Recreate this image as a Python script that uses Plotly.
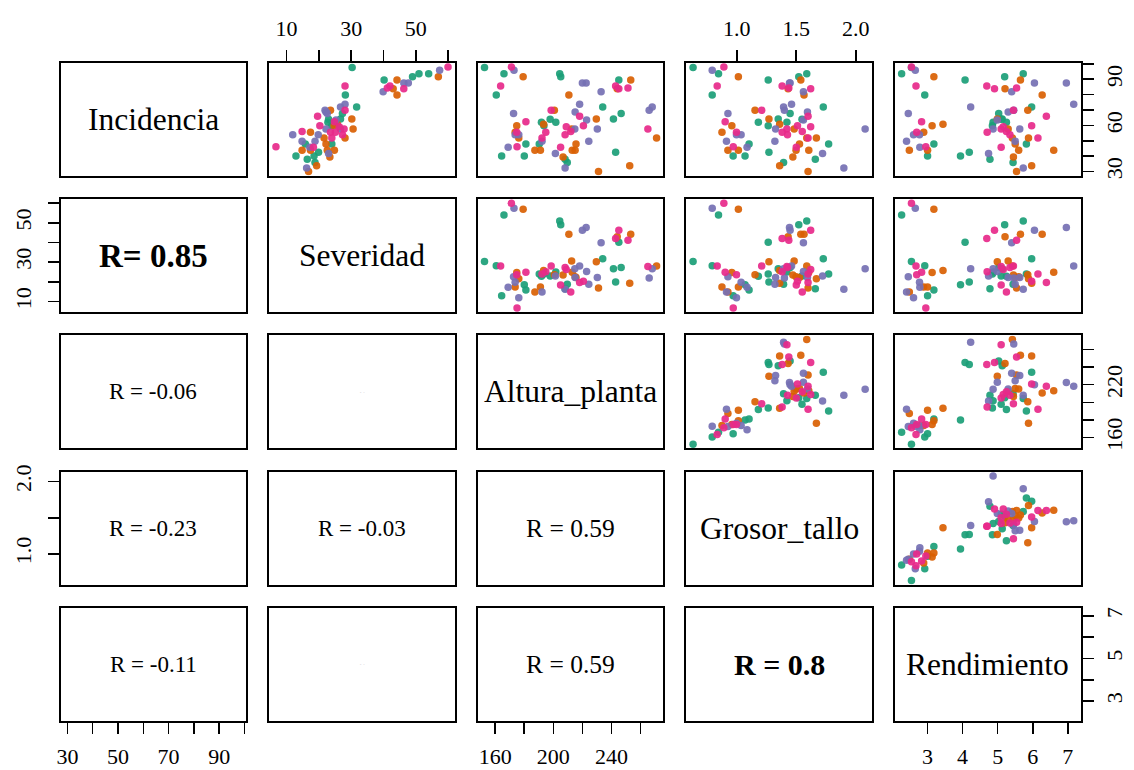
import plotly.graph_objects as go

# ---------------- data (one entry per observation) ----------------
grupo = (["G1"] * 20) + (["G2"] * 20) + (["G3"] * 19) + (["G4"] * 18)

incidencia = [
    97.6, 93.6, 79.8, 40.1, 40.1, 48.0, 62.0, 59.8, 89.6, 42.5,
    64.1, 67.7, 71.9, 35.9, 91.7, 93.6, 38.0, 64.0, 62.0, 48.0,
    55.6, 59.8, 91.7, 43.8, 43.8, 69.8, 64.1, 83.8, 89.6, 51.8,
    33.8, 30.0, 48.0, 57.7, 79.8, 39.5, 60.7, 51.8, 43.9, 43.9,
    95.9, 67.7, 53.9, 45.9, 49.7, 53.9, 71.9, 69.8, 57.7, 49.7,
    81.9, 87.5, 73.7, 63.5, 41.8, 32.3, 57.7, 87.5, 68.8,
    98.0, 85.7, 62.4, 55.6, 46.1, 69.8, 57.7, 84.3, 85.7, 83.8,
    59.8, 66.0, 53.9, 59.2, 55.6, 51.8, 56.0, 45.9,
]
severidad = [
    30.3, 54.0, 28.2, 12.9, 18.5, 15.8, 22.8, 24.0, 40.2, 19.9,
    26.7, 27.3, 31.7, 18.8, 49.0, 51.0, 16.4, 23.0, 25.0, 24.0,
    17.4, 24.7, 57.0, 14.8, 17.4, 23.6, 30.2, 43.0, 44.2, 28.1,
    19.3, 16.8, 22.2, 30.6, 44.2, 23.4, 25.7, 21.6, 24.8, 22.6,
    57.4, 22.6, 19.8, 17.2, 14.8, 11.9, 26.7, 21.9, 22.2, 18.8,
    39.9, 47.7, 28.1, 25.3, 23.0, 16.2, 26.7, 46.3, 22.2,
    60.0, 28.1, 24.8, 23.6, 6.7, 28.1, 27.8, 41.2, 42.0, 46.3,
    20.3, 19.6, 27.3, 26.3, 25.1, 24.0, 14.8, 18.3,
]
altura_planta = [
    152.6, 166.0, 160.7, 164.4, 180.0, 181.1, 191.8, 193.5, 245.1, 242.9,
    241.4, 246.7, 234.0, 209.6, 205.1, 204.4, 208.1, 197.8, 201.7, 190.3,
    173.7, 174.8, 179.2, 187.3, 191.1, 200.7, 229.6, 244.0, 253.3, 271.1,
    252.6, 231.1, 215.6, 212.6, 210.7, 206.7, 193.3, 176.2, 213.0, 215.0,
    172.9, 172.6, 173.7, 168.9, 192.2, 176.2, 268.1, 266.0, 230.3, 224.4,
    232.9, 222.6, 218.1, 222.9, 201.4, 208.1, 214.8, 220.0, 215.0,
    171.1, 163.7, 181.1, 174.8, 175.0, 198.5, 265.1, 251.4, 242.9, 245.1,
    220.7, 218.1, 208.1, 208.9, 194.8, 192.2, 212.0, 205.0,
]
grosor_tallo = [
    0.632, 0.846, 0.793, 0.969, 1.069, 1.103, 1.181, 1.264, 1.264, 1.270,
    1.348, 1.448, 1.727, 1.393, 1.521, 1.588, 1.660, 1.548, 1.421, 1.772,
    0.875, 0.958, 1.013, 0.925, 1.013, 1.153, 1.270, 1.431, 1.538, 1.588,
    1.360, 1.599, 1.527, 1.482, 1.565, 1.471, 1.360, 1.669, 1.605, 1.498,
    0.793, 0.925, 1.036, 1.086, 0.913, 0.997, 1.393, 1.400, 1.326, 1.320,
    1.560, 1.443, 1.460, 1.560, 1.721, 1.900, 2.079, 1.448, 1.594,
    0.891, 0.835, 0.902, 0.997, 0.970, 1.209, 1.421, 1.437, 1.381, 1.621,
    1.510, 1.599, 1.426, 1.621, 1.381, 1.599, 1.550, 1.500,
]
rendimiento = [
    2.54, 2.26, 2.92, 3.00, 3.94, 3.18, 5.25, 4.85, 4.07, 4.19,
    5.13, 5.03, 5.97, 5.44, 5.20, 5.73, 4.78, 5.10, 4.87, 5.82,
    2.89, 3.13, 3.18, 2.48, 3.00, 5.86, 4.99, 5.21, 5.65, 5.42,
    5.97, 5.54, 5.50, 5.30, 6.27, 5.45, 3.44, 5.88, 6.60, 5.60,
    2.65, 2.45, 2.77, 2.78, 2.40, 2.60, 4.23, 5.46, 5.63, 5.50,
    5.40, 6.96, 7.17, 4.99, 4.74, 5.73, 4.87, 6.05, 5.30,
    2.54, 2.67, 2.83, 2.69, 2.95, 5.45, 5.10, 5.54, 4.69, 4.91,
    5.97, 6.39, 5.35, 5.16, 4.70, 6.15, 5.25, 5.10,
]

variables = ["Incidencia", "Severidad", "Altura_planta", "Grosor_tallo", "Rendimiento"]
columnas = [incidencia, severidad, altura_planta, grosor_tallo, rendimiento]

# correlation labels shown in the lower panels (row, col)
etiquetas_r = {
    (1, 0): "R= 0.85",
    (2, 0): "R = -0.06",
    (2, 1): "R = 0",
    (3, 0): "R = -0.23",
    (3, 1): "R = -0.03",
    (3, 2): "R = 0.59",
    (4, 0): "R = -0.11",
    (4, 1): "R = 0",
    (4, 2): "R = 0.59",
    (4, 3): "R = 0.8",
}

# tick values per variable and the labels R kept on each outer side
ticks = {
    0: [30, 40, 50, 60, 70, 80, 90, 100],
    1: [10, 20, 30, 40, 50, 60],
    2: [160, 180, 200, 220, 240, 260],
    3: [1.0, 1.5, 2.0],
    4: [3, 4, 5, 6, 7],
}
texto_top = {1: ["10", "", "30", "", "50", ""], 3: ["1.0", "1.5", "2.0"]}
texto_bottom = {0: ["30", "", "50", "", "70", "", "90", ""],
                2: ["160", "", "200", "", "240", ""],
                4: ["3", "4", "5", "6", "7"]}
texto_left = {1: ["10", "", "30", "", "50", ""], 3: ["1.0", "", "2.0"]}
texto_right = {0: ["30", "", "", "60", "", "", "90", ""],
               2: ["160", "", "", "220", "", ""],
               4: ["3", "", "5", "", "7"]}

# ---------------- styles ----------------
paleta = {"G1": "#1B9E77", "G2": "#D95F02", "G3": "#7570B3", "G4": "#E7298A"}
colores = [paleta[g] for g in grupo]

W, H = 1134, 770
X0, DX, PW = 56.7, 209.3, 186.5
Y0, DY, PH = 56.5, 138.1, 114.5
SERIF = "Liberation Serif"
TICKFONT = dict(family=SERIF, size=22, color="black")


def rango(v):
    lo, hi = min(v), max(v)
    p = 0.04 * (hi - lo)
    return [lo - p, hi + p]


rangos = [rango(v) for v in columnas]

fig = go.Figure()
layout = {}
annotations = []
n = len(variables)

for i in range(n):
    for j in range(n):
        k = i * n + j + 1
        sx = "" if k == 1 else str(k)
        xa, ya = "x" + sx, "y" + sx
        x_left = (X0 + j * DX) / W
        x_right = (X0 + j * DX + PW) / W
        y_top = 1 - (Y0 + i * DY) / H
        y_bot = 1 - (Y0 + i * DY + PH) / H

        base = dict(showline=True, mirror=True, linecolor="black", linewidth=2,
                    showgrid=False, zeroline=False, fixedrange=True,
                    ticks="", showticklabels=False, tickfont=TICKFONT,
                    ticklen=11, tickwidth=1.6, tickcolor="black")
        xax = dict(base, domain=[x_left, x_right], anchor=ya, range=rangos[j])
        yax = dict(base, domain=[y_bot, y_top], anchor=xa, range=rangos[i])

        if i == 0 and j in texto_top:
            xax.update(side="top", ticks="outside", showticklabels=True,
                       tickvals=ticks[j], ticktext=texto_top[j], ticklabelstandoff=5)
        if i == n - 1 and j in texto_bottom:
            xax.update(side="bottom", ticks="outside", showticklabels=True,
                       tickvals=ticks[j], ticktext=texto_bottom[j], ticklabelstandoff=4)
        if j == 0 and i in texto_left:
            yax.update(side="left", ticks="outside", showticklabels=True,
                       tickvals=ticks[i], ticktext=texto_left[i], tickangle=-90,
                       ticklabelstandoff=8)
        if j == n - 1 and i in texto_right:
            yax.update(side="right", ticks="outside", showticklabels=True,
                       tickvals=ticks[i], ticktext=texto_right[i], tickangle=-90,
                       ticklabelstandoff=2)

        layout["xaxis" + sx] = xax
        layout["yaxis" + sx] = yax

        if j > i:
            fig.add_trace(go.Scatter(
                x=columnas[j], y=columnas[i], mode="markers",
                marker=dict(color=colores, size=7.5, opacity=0.92, line=dict(width=0)),
                xaxis=xa, yaxis=ya, showlegend=False, hoverinfo="skip"))
        else:
            fig.add_trace(go.Scatter(x=[None], y=[None], mode="markers",
                                     xaxis=xa, yaxis=ya, showlegend=False,
                                     hoverinfo="skip"))
            if i == j:
                txt, fnt = variables[i], dict(family=SERIF, size=31.5, color="black")
            else:
                txt = etiquetas_r[(i, j)]
                if (i, j) == (1, 0):
                    fnt = dict(family=SERIF, size=33, color="black")
                    txt = "<b>" + txt + "</b>"
                elif (i, j) == (4, 3):
                    fnt = dict(family=SERIF, size=30, color="black")
                    txt = "<b>" + txt + "</b>"
                elif (i, j) in [(3, 2), (4, 2)]:
                    fnt = dict(family=SERIF, size=25.5, color="black")
                elif (i, j) in [(2, 1), (4, 1)]:
                    fnt = dict(family=SERIF, size=2, color="#bbbbbb")
                else:
                    fnt = dict(family=SERIF, size=23, color="black")
            annotations.append(dict(text=txt, x=0.5, y=0.5,
                                    xref=xa + " domain", yref=ya + " domain",
                                    showarrow=False, font=fnt))

fig.update_layout(**layout)
fig.update_layout(width=W, height=H, margin=dict(l=0, r=0, t=0, b=0),
                  paper_bgcolor="white", plot_bgcolor="white",
                  showlegend=False, annotations=annotations)

# the page body gets no margin, so the figure fills the window exactly
fig.write_html(
    "out.html",
    config={"displayModeBar": False, "staticPlot": True},
    post_script="document.body.style.margin='0';document.body.style.overflow='hidden';",
)
